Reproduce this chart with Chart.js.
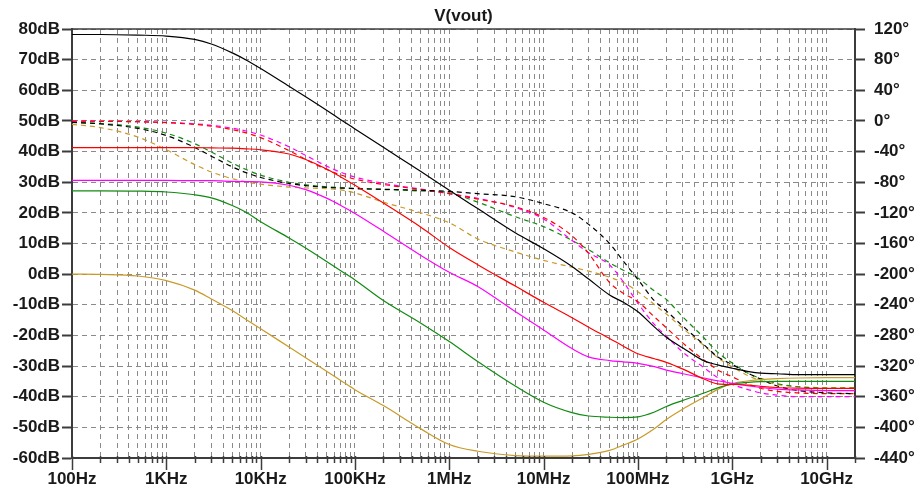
<!DOCTYPE html>
<html>
<head>
<meta charset="utf-8">
<title>V(vout)</title>
<script src="https://cdn.jsdelivr.net/npm/chart.js@4.4.1/dist/chart.umd.min.js"></script>
<style>
  html, body { margin: 0; padding: 0; background: #ffffff; }
  #wrap { width: 915px; height: 490px; }
</style>
</head>
<body>
<div id="wrap"><canvas id="bode"></canvas></div>
<script>
// Sweep frequencies (Hz)
const FREQ_HZ = [100, 200, 500, 1e3, 2e3, 3e3, 5e3, 7e3, 1e4, 2e4, 3e4, 5e4, 7e4,
  1e5, 2e5, 5e5, 1e6, 2e6, 5e6, 1e7, 2e7, 3e7, 5e7, 7e7,
  1e8, 1.5e8, 2e8, 3e8, 5e8, 7e8, 1e9, 1.5e9, 2e9, 3e9, 5e9, 1e10, 2e10];

// Magnitude of V(vout) per step (dB)
const MAG_BLACK = [78.2, 78.2, 78.0, 77.7, 76.6, 75.1, 72.2, 69.9, 67.1, 61.3, 57.9, 53.5, 50.5,
  47.4, 41.4, 33.5, 27.4, 21.4, 13.5, 8.3, 2.5, -1.6, -6.8, -9.2,
  -12.3, -17.3, -20.6, -24.1, -28.3, -29.6, -30.7, -31.8, -32.3, -32.5, -32.8, -32.8, -32.8];
const MAG_RED = [41.3, 41.3, 41.3, 41.3, 41.3, 41.2, 41.1, 40.9, 40.6, 39.2, 37.4, 34.3, 31.8,
  29.0, 23.2, 15.3, 8.7, 3.1, -3.9, -9.2, -14.2, -17.3, -21.0, -23.5,
  -26.0, -27.6, -28.8, -31.0, -34.2, -35.8, -36.0, -36.2, -36.6, -37.0, -37.2, -37.3, -37.3];
const MAG_MAGENTA = [30.6, 30.6, 30.6, 30.6, 30.5, 30.5, 30.3, 30.2, 30.1, 29.0, 27.6, 24.8, 22.5,
  19.8, 14.0, 6.1, 0.6, -4.0, -12.2, -18.2, -24.3, -27.0, -28.2, -28.6,
  -29.1, -30.2, -31.3, -32.5, -33.9, -34.8, -35.6, -36.5, -37.0, -37.5, -37.8, -38.0, -38.0];
const MAG_GREEN = [27.2, 27.2, 27.1, 26.8, 25.9, 24.9, 22.4, 20.2, 17.1, 11.8, 8.5, 4.1, 1.2,
  -1.9, -8.6, -16.0, -22.0, -28.5, -36.5, -41.8, -45.2, -46.3, -46.7, -46.8,
  -46.6, -45.0, -43.2, -41.2, -38.8, -37.1, -35.9, -35.3, -35.1, -35.0, -35.0, -35.0, -35.0];
const MAG_GOLD = [0.0, -0.1, -0.6, -2.1, -5.2, -8.1, -11.9, -14.8, -17.8, -23.8, -27.3, -31.7, -34.6,
  -37.7, -42.9, -50.5, -55.6, -57.8, -59.2, -59.4, -59.3, -58.8, -57.5, -55.8,
  -53.8, -50.4, -47.4, -44.0, -40.2, -37.6, -35.7, -34.8, -34.4, -34.1, -33.9, -33.8, -33.8];

// Phase of V(vout) per step (degrees)
const PH_BLACK = [-2.0, -3.9, -9.8, -19.0, -34.6, -46.0, -59.9, -67.5, -73.8, -81.7, -84.5, -86.7, -87.6,
  -88.3, -89.2, -90.5, -92, -95, -99, -108, -120, -135, -160, -183,
  -207, -235, -248, -268, -292, -308, -318, -330, -337, -346, -352, -355, -356];
const PH_RED = [-0.2, -0.5, -1.1, -2.3, -4.6, -6.8, -11.3, -15.6, -21.8, -38.7, -50.2, -63.4, -70.3,
  -76, -83, -89.5, -95, -102, -112, -126, -150, -173, -211, -225,
  -236, -256, -270, -290, -312, -325, -334, -344, -349, -353, -355, -356, -356];
const PH_MAGENTA = [-0.2, -0.4, -1.0, -1.9, -3.8, -5.7, -9.5, -13.1, -18.4, -33.7, -45, -59, -66.8,
  -73.3, -81.5, -89, -95, -101, -113, -128, -156, -172, -188, -210,
  -238, -266, -281, -302, -322, -335, -344, -351, -355, -358, -360, -360, -360];
const PH_GREEN = [-1.6, -3.3, -8.1, -15.9, -29.7, -40.6, -55.0, -63.4, -70.7, -80.1, -83.3, -86.0, -87.1,
  -88.2, -89.5, -91.5, -94, -106, -125, -138, -156, -168, -185, -195,
  -205, -222, -233, -256, -283, -302, -316, -330, -336, -343, -347, -349, -349];
const PH_GOLD = [-4.4, -8.7, -21.0, -37.6, -57.0, -66.6, -75.4, -79.5, -82.6, -86.3, -87.5, -88.5, -90,
  -94, -106, -120, -133, -154, -171, -182, -191, -196, -204, -211,
  -223, -240, -252, -271, -293, -309, -321, -333, -339, -344, -347, -348, -348];

// Axis labelling
const X_DECADES = [100, 1e3, 1e4, 1e5, 1e6, 1e7, 1e8, 1e9, 1e10];
const X_LABELS = ['100Hz', '1KHz', '10KHz', '100KHz', '1MHz', '10MHz', '100MHz', '1GHz', '10GHz'];
const X_MIN = 100, X_MAX = 2e10;
const DB_MIN = -60, DB_MAX = 80, DB_STEP = 10;
const DEG_MIN = -440, DEG_MAX = 120, DEG_STEP = 40;

const COLORS = { black: '#000000', red: '#ff0000', magenta: '#ff00ff', green: '#108a10', gold: '#c89a28' };

const pts = (ys) => FREQ_HZ.map((f, i) => ({ x: f, y: ys[i] }));

function magSet(color, ys) {
  return { data: pts(ys), yAxisID: 'y', borderColor: color, borderWidth: 1.2,
    pointRadius: 0, cubicInterpolationMode: 'monotone', fill: false };
}
function phaseSet(color, ys) {
  return { data: pts(ys), yAxisID: 'y1', borderColor: color, borderWidth: 1.2, borderDash: [5, 4],
    pointRadius: 0, cubicInterpolationMode: 'monotone', fill: false };
}

// Every 1..9 multiple inside the sweep gets a grid line
const X_GRID = [];
X_DECADES.forEach(d => { for (let m = 1; m <= 9; m++) { const v = d * m; if (v <= X_MAX) X_GRID.push(v); } });

const AXIS_FONT = { family: '"Liberation Sans", Arial, sans-serif', weight: 'bold', size: 17 };
const GRID_COLOR = '#8a8a8a';
const AXIS_COLOR = '#3c3c3c';

// Frame top edge and short minor ticks along the frequency axis
const framePlugin = {
  id: 'frame',
  afterDraw(chart) {
    const { ctx, chartArea: a } = chart;
    const xs = chart.scales.x;
    ctx.save();
    ctx.strokeStyle = AXIS_COLOR;
    ctx.lineWidth = 1.5;
    ctx.beginPath();
    ctx.moveTo(a.left, a.top);
    ctx.lineTo(a.right, a.top);
    ctx.stroke();
    ctx.lineWidth = 1.5;
    X_GRID.forEach(v => {
      const px = Math.round(xs.getPixelForValue(v)) + 0.5;
      const major = X_DECADES.includes(v);
      ctx.beginPath();
      ctx.moveTo(px, a.bottom - 2);
      ctx.lineTo(px, a.bottom + (major ? 12 : 5));
      ctx.stroke();
    });
    ctx.restore();
  }
};

new Chart(document.getElementById('bode'), {
  type: 'line',
  data: {
    datasets: [
      magSet(COLORS.black, MAG_BLACK),
      magSet(COLORS.red, MAG_RED),
      magSet(COLORS.magenta, MAG_MAGENTA),
      magSet(COLORS.green, MAG_GREEN),
      magSet(COLORS.gold, MAG_GOLD),
      phaseSet(COLORS.black, PH_BLACK),
      phaseSet(COLORS.red, PH_RED),
      phaseSet(COLORS.magenta, PH_MAGENTA),
      phaseSet(COLORS.green, PH_GREEN),
      phaseSet(COLORS.gold, PH_GOLD)
    ]
  },
  options: {
    responsive: true,
    maintainAspectRatio: false,
    animation: false,
    events: [],
    layout: { padding: 0 },
    plugins: {
      legend: { display: false },
      tooltip: { enabled: false },
      title: {
        display: true, text: 'V(vout)', color: '#1a1a1a', fullSize: false,
        font: AXIS_FONT, padding: { top: 6, bottom: 2.6 }
      }
    },
    scales: {
      x: {
        type: 'logarithmic', position: 'bottom', min: X_MIN, max: X_MAX,
        afterBuildTicks(scale) { scale.ticks = X_GRID.map(v => ({ value: v })); },
        afterFit(scale) { scale.height = 32; },
        ticks: {
          autoSkip: false, maxRotation: 0, minRotation: 0, padding: 1,
          color: '#1a1a1a', font: AXIS_FONT,
          callback(value) { const i = X_DECADES.indexOf(value); return i >= 0 ? X_LABELS[i] : ''; }
        },
        grid: { color: GRID_COLOR, lineWidth: 1, drawTicks: true, tickLength: 10, tickColor: 'rgba(0,0,0,0)' },
        border: { display: true, color: AXIS_COLOR, width: 2, dash: [5, 4] }
      },
      y: {
        type: 'linear', position: 'left', min: DB_MIN, max: DB_MAX,
        afterFit(scale) { scale.width = 72; },
        ticks: { stepSize: DB_STEP, padding: 2, color: '#1a1a1a', font: AXIS_FONT,
          callback: (v) => v + 'dB' },
        grid: { color: GRID_COLOR, lineWidth: 1, tickLength: 10, tickColor: AXIS_COLOR, tickWidth: 2 },
        border: { display: true, color: AXIS_COLOR, width: 2, dash: [5, 4] }
      },
      y1: {
        type: 'linear', position: 'right', min: DEG_MIN, max: DEG_MAX,
        afterFit(scale) { scale.width = 60; },
        ticks: { stepSize: DEG_STEP, padding: 9, color: '#1a1a1a', font: AXIS_FONT,
          callback: (v) => v + '°' },
        grid: { drawOnChartArea: false, tickLength: 10, tickColor: AXIS_COLOR, tickWidth: 2 },
        border: { display: true, color: AXIS_COLOR, width: 2 }
      }
    }
  },
  plugins: [framePlugin]
});
</script>
</body>
</html>
